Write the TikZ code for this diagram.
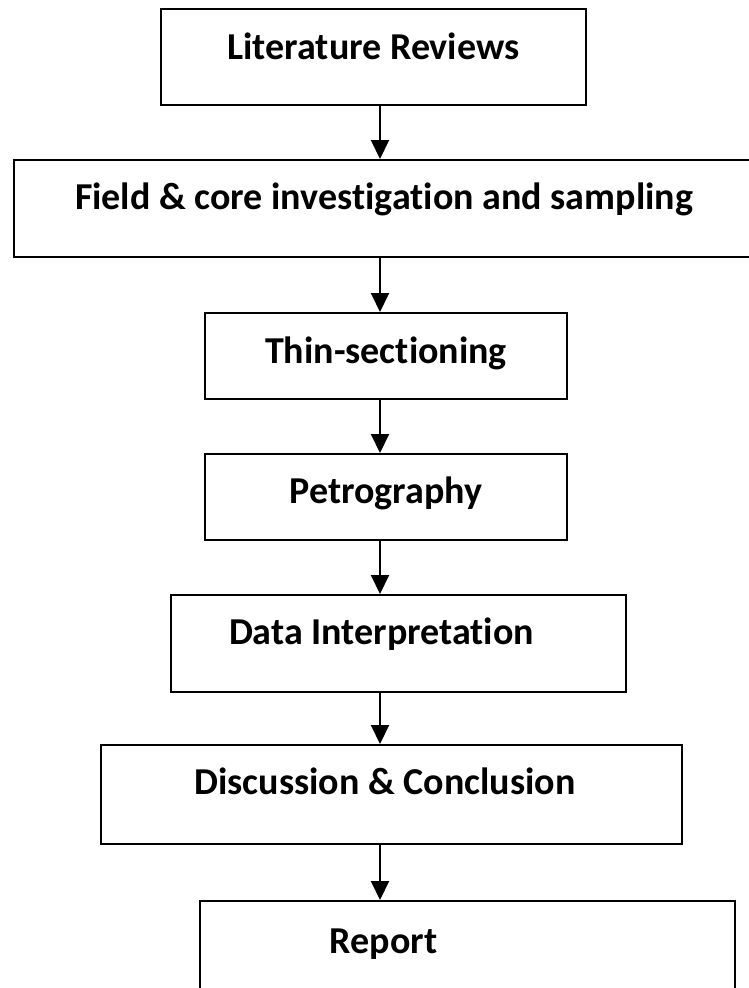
\documentclass[tikz,border=0pt]{standalone}
\usepackage{fontspec}
\setmainfont{Carlito}[Ligatures=NoCommon]
\usetikzlibrary{arrows.meta}
\begin{document}
\begin{tikzpicture}[x=1pt,y=-1pt,
  box/.style={draw, line width=2pt, inner sep=0pt, anchor=north west,
    font=\fontsize{38}{44}\selectfont\bfseries},
  arr/.style={line width=2pt, -{Triangle[width=18pt,length=19pt]}}]
\useasboundingbox (0,0) rectangle (749,988);
\node[box, minimum width=425pt, text height=50pt, text depth=46pt] (lit) at (160,8) {Literature Reviews};
\node[box, minimum width=740pt, text height=49pt, text depth=48pt] (field) at (13,159) {Field \& core investigation and sampling};
\node[box, minimum width=362pt, text height=50pt, text depth=36pt] (thin) at (204,312) {Thin-sectioning};
\node[box, minimum width=362pt, text height=49pt, text depth=37pt] (petro) at (204,453) {Petrography};
\node[box, minimum width=455pt, text height=49pt, text depth=48pt] (data) at (170,594) {Data Interpretation\kern34pt};
\node[box, minimum width=581pt, text height=49pt, text depth=50pt] (disc) at (100,744) {Discussion \& Conclusion\kern13pt};
\node[box, minimum width=535pt, text height=52pt, text depth=60pt] (rep) at (199,900) {Report\kern168pt};
\coordinate (ax) at (380,0);
\draw[arr] (lit.south -| ax) -- (field.north -| ax);
\draw[arr] (field.south -| ax) -- (thin.north -| ax);
\draw[arr] (thin.south -| ax) -- (petro.north -| ax);
\draw[arr] (petro.south -| ax) -- (data.north -| ax);
\draw[arr] (data.south -| ax) -- (disc.north -| ax);
\draw[arr] (disc.south -| ax) -- (rep.north -| ax);
\end{tikzpicture}
\end{document}
